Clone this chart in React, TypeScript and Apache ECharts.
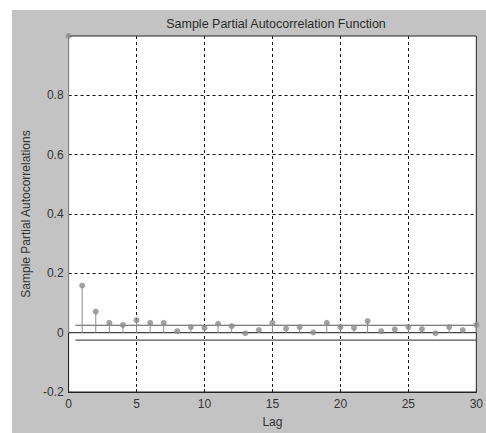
import React, { useEffect, useRef } from "react";
import * as echarts from "echarts";

const lags = [0,1,2,3,4,5,6,7,8,9,10,11,12,13,14,15,16,17,18,19,20,21,22,23,24,25,26,27,28,29,30];
const pacf = [1,0.159,0.071,0.033,0.026,0.042,0.033,0.033,0.005,0.019,0.016,0.03,0.022,-0.002,0.009,0.033,0.014,0.019,0.001,0.033,0.019,0.016,0.039,0.005,0.011,0.019,0.012,-0.002,0.019,0.009,0.026];
const boundX = [0.5, 30];
const upperBound = [0.025, 0.025];
const lowerBound = [-0.025, -0.025];
const zeroX = [0, 30];
const xTicks = [0, 5, 10, 15, 20, 25, 30];

export default function App() {
  const ref = useRef<HTMLDivElement>(null);
  useEffect(() => {
    document.body.style.margin = "0";
    const chart = echarts.init(ref.current!, null, { renderer: "svg" });
    const pts = lags.map((l, i) => [l, pacf[i]]);
    chart.setOption({
      animation: false,
      backgroundColor: "#c3c3c3",
      textStyle: { fontFamily: "Liberation Sans, Arial, sans-serif" },
      title: {
        text: "Sample Partial Autocorrelation Function",
        left: 259,
        textAlign: "center",
        top: 2,
        textStyle: { fontSize: 12.5, fontWeight: "normal", color: "#2a2a2a" },
      },
      grid: {
        left: 53, top: 26, right: 8, bottom: 39,
        show: true, backgroundColor: "#ffffff", borderColor: "#222", borderWidth: 1,
      },
      xAxis: {
        type: "value", min: xTicks[0], max: xTicks[xTicks.length - 1], interval: 5,
        name: "Lag", nameLocation: "middle", nameGap: 24,
        nameTextStyle: { fontSize: 12, color: "#333" },
        axisLine: { show: true, onZero: false, lineStyle: { color: "#222" } },
        axisTick: { show: true, inside: true, length: 3, lineStyle: { color: "#222" } },
        axisLabel: { fontSize: 12, color: "#333", margin: 6 },
        splitLine: { show: true, showMinLine: false, showMaxLine: false, lineStyle: { type: [3, 3], color: "#111" } },
      },
      yAxis: {
        type: "value", min: -0.2, max: 1, interval: 0.2,
        name: "Sample Partial Autocorrelations", nameLocation: "middle", nameGap: 33,
        nameTextStyle: { fontSize: 12, color: "#333" },
        axisLine: { show: true, lineStyle: { color: "#222" } },
        axisTick: { show: true, inside: true, length: 3, lineStyle: { color: "#222" } },
        axisLabel: {
          fontSize: 12, color: "#333", margin: 5,
          formatter: (v: number) => (Math.abs(v - 1) < 1e-9 ? "" : String(Math.round(v * 10) / 10)),
        },
        splitLine: { show: true, showMinLine: false, showMaxLine: false, lineStyle: { type: [3, 3], color: "#111" } },
      },
      series: [
        {
          type: "line", data: zeroX.map((x) => [x, 0]), symbol: "none",
          lineStyle: { color: "#444", width: 1.2 }, z: 3,
        },
        {
          type: "line", data: boundX.map((x, i) => [x, upperBound[i]]), symbol: "none",
          lineStyle: { color: "#555", width: 1.2 }, z: 3,
        },
        {
          type: "line", data: boundX.map((x, i) => [x, lowerBound[i]]), symbol: "none",
          lineStyle: { color: "#555", width: 1.2 }, z: 3,
        },
        {
          type: "bar", data: pts, barWidth: 1, itemStyle: { color: "#8c8c8c" }, z: 4,
        },
        {
          type: "scatter", data: pts, symbol: "circle", symbolSize: 6,
          itemStyle: { color: "#8c8c8c" }, z: 5,
        },
      ],
    });
    return () => chart.dispose();
  }, []);
  return (
    <div style={{ position: "absolute", left: 0, top: 0, width: 486, height: 433, background: "#ffffff" }}>
      <div ref={ref} style={{ position: "absolute", left: 12, top: 10, width: 474, height: 423 }} />
    </div>
  );
}
